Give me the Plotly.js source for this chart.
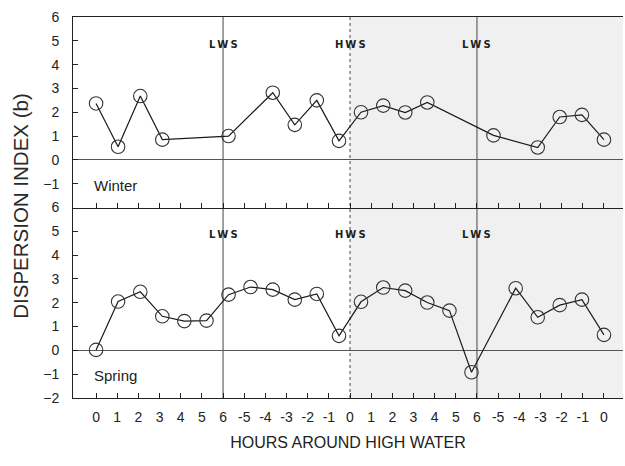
<!DOCTYPE html>
<html>
<head>
<meta charset="utf-8">
<script src="https://cdn.plot.ly/plotly-3.0.1.min.js"></script>
<style>html,body{margin:0;padding:0;background:#fff;}#chart{width:625px;height:466px;}</style>
</head>
<body>
<div id="chart"></div>
<script>
// Hour ticks around high water (positions 0..24 on the axis)
const tickPositions = [0,1,2,3,4,5,6,7,8,9,10,11,12,13,14,15,16,17,18,19,20,21,22,23,24];
const tickLabels = ['0','1','2','3','4','5','6','-5','-4','-3','-2','-1','0','1','2','3','4','5','6','-5','-4','-3','-2','-1','0'];

// Winter series (x in axis units)
const winterX = [0, 1.04, 2.09, 3.13, 6.26, 8.35, 9.39, 10.43, 11.48, 12.52, 13.57, 14.61, 15.65, 18.78, 20.87, 21.91, 22.96, 24.0];
const winterB = [2.37, 0.55, 2.68, 0.85, 1.0, 2.82, 1.47, 2.5, 0.8, 2.0, 2.28, 1.99, 2.41, 1.03, 0.52, 1.8, 1.89, 0.85];

// Spring series
const springX = [0, 1.04, 2.09, 3.13, 4.17, 5.22, 6.26, 7.30, 8.35, 9.39, 10.43, 11.48, 12.52, 13.57, 14.61, 15.65, 16.70, 17.74, 19.83, 20.87, 21.91, 22.96, 24.0];
const springB = [0.02, 2.05, 2.46, 1.43, 1.23, 1.25, 2.34, 2.66, 2.55, 2.13, 2.37, 0.61, 2.04, 2.64, 2.51, 2.01, 1.67, -0.92, 2.61, 1.39, 1.9, 2.13, 0.65];

// Tide events
const eventX = [6, 12, 18];
const eventLabels = ['LWS', 'HWS', 'LWS'];
const shadedFrom = 12;

const panelNames = ['Winter', 'Spring'];

const FONT = 'Liberation Sans, Arial, Helvetica, sans-serif';
const INK = '#222';

const lineStyle = {color: '#1a1a1a', width: 1.2};
const markerStyle = {symbol: 'circle-open', size: 13.5, color: '#333', line: {width: 1.1, color: '#333'}};

const traces = [
  {x: winterX, y: winterB, xaxis: 'x2', yaxis: 'y2', type: 'scatter', mode: 'lines+markers',
   line: lineStyle, marker: markerStyle, showlegend: false, hoverinfo: 'x+y'},
  {x: springX, y: springB, xaxis: 'x', yaxis: 'y', type: 'scatter', mode: 'lines+markers',
   line: lineStyle, marker: markerStyle, showlegend: false, hoverinfo: 'x+y'}
];

const xRange = [-1.09, 24.9];
const yRange = [-2, 6];

const shapes = [];
// shaded half in both panels
['y', 'y2'].forEach(function (yr) {
  shapes.push({type: 'rect', xref: 'x', yref: yr + ' domain', x0: shadedFrom, x1: xRange[1], y0: 0, y1: 1,
    fillcolor: 'rgba(0,0,0,0.06)', line: {width: 0}, layer: 'below'});
});
eventX.forEach(function (ex, i) {
  shapes.push({type: 'line', xref: 'x', yref: 'paper', x0: ex, x1: ex, y0: 0, y1: 1,
    line: {color: '#444', width: 1, dash: eventLabels[i] === 'HWS' ? 'dot' : 'solid'}, layer: 'below'});
});

function spaced(s) { return s.split('').join('\u2009'); }

const annotations = [];
['y', 'y2'].forEach(function (yr) {
  eventX.forEach(function (ex, i) {
    annotations.push({xref: 'x', yref: yr, x: ex, y: 4.85, text: '<b>' + spaced(eventLabels[i]) + '</b>',
      showarrow: false, font: {family: 'DejaVu Sans, sans-serif', size: 10, color: INK}, xanchor: 'center', yanchor: 'middle'});
  });
});
annotations.push({xref: 'x', yref: 'y2', x: -0.2, y: -1.09, text: panelNames[0], showarrow: false,
  xanchor: 'left', yanchor: 'middle', font: {family: FONT, size: 15, color: INK}});
annotations.push({xref: 'x', yref: 'y', x: -0.2, y: -1.06, text: panelNames[1], showarrow: false,
  xanchor: 'left', yanchor: 'middle', font: {family: FONT, size: 15, color: INK}});
annotations.push({xref: 'paper', yref: 'paper', x: -0.096, y: 0.505, text: 'DISPERSION INDEX (b)', showarrow: false,
  textangle: -90, xanchor: 'center', yanchor: 'middle', font: {family: FONT, size: 20.5, color: '#2a2a2a'}});

const yCommon = {
  range: yRange, ticks: 'inside', ticklen: 5, tickcolor: INK, showline: true, linecolor: INK, linewidth: 1,
  zeroline: true, zerolinecolor: '#555', zerolinewidth: 1, showgrid: false,
  tickfont: {family: FONT, size: 14, color: INK}, ticklabelstandoff: 10, fixedrange: true
};

const layout = {
  width: 625, height: 466,
  margin: {l: 73, r: 2, t: 17, b: 68},
  paper_bgcolor: '#fff', plot_bgcolor: 'rgba(0,0,0,0)',
  font: {family: FONT, color: INK},
  xaxis: {
    domain: [0, 1], anchor: 'y', range: xRange, tickmode: 'array', tickvals: tickPositions, ticktext: tickLabels,
    ticks: 'inside', ticklen: 5, tickcolor: INK, showline: true, linecolor: INK, linewidth: 1.2,
    showgrid: false, zeroline: false, tickfont: {family: FONT, size: 14, color: INK}, ticklabelstandoff: 6,
    title: {text: 'HOURS AROUND HIGH WATER', font: {family: FONT, size: 16, color: INK}, standoff: 12}
  },
  xaxis2: {
    domain: [0, 1], anchor: 'y2', matches: 'x', range: xRange, tickmode: 'array', tickvals: tickPositions,
    ticks: 'inside', ticklen: 5, tickcolor: INK, showticklabels: false, showline: true, linecolor: INK, linewidth: 1.2,
    mirror: true, showgrid: false, zeroline: false
  },
  yaxis: Object.assign({}, yCommon, {domain: [0, 0.5], anchor: 'x', tickvals: [-2,-1,0,1,2,3,4,5,6]}),
  yaxis2: Object.assign({}, yCommon, {domain: [0.5, 1], anchor: 'x2', tickvals: [-1,0,1,2,3,4,5,6]}),
  shapes: shapes,
  annotations: annotations
};

Plotly.newPlot('chart', traces, layout, {displayModeBar: false, staticPlot: true});
</script>
</body>
</html>
